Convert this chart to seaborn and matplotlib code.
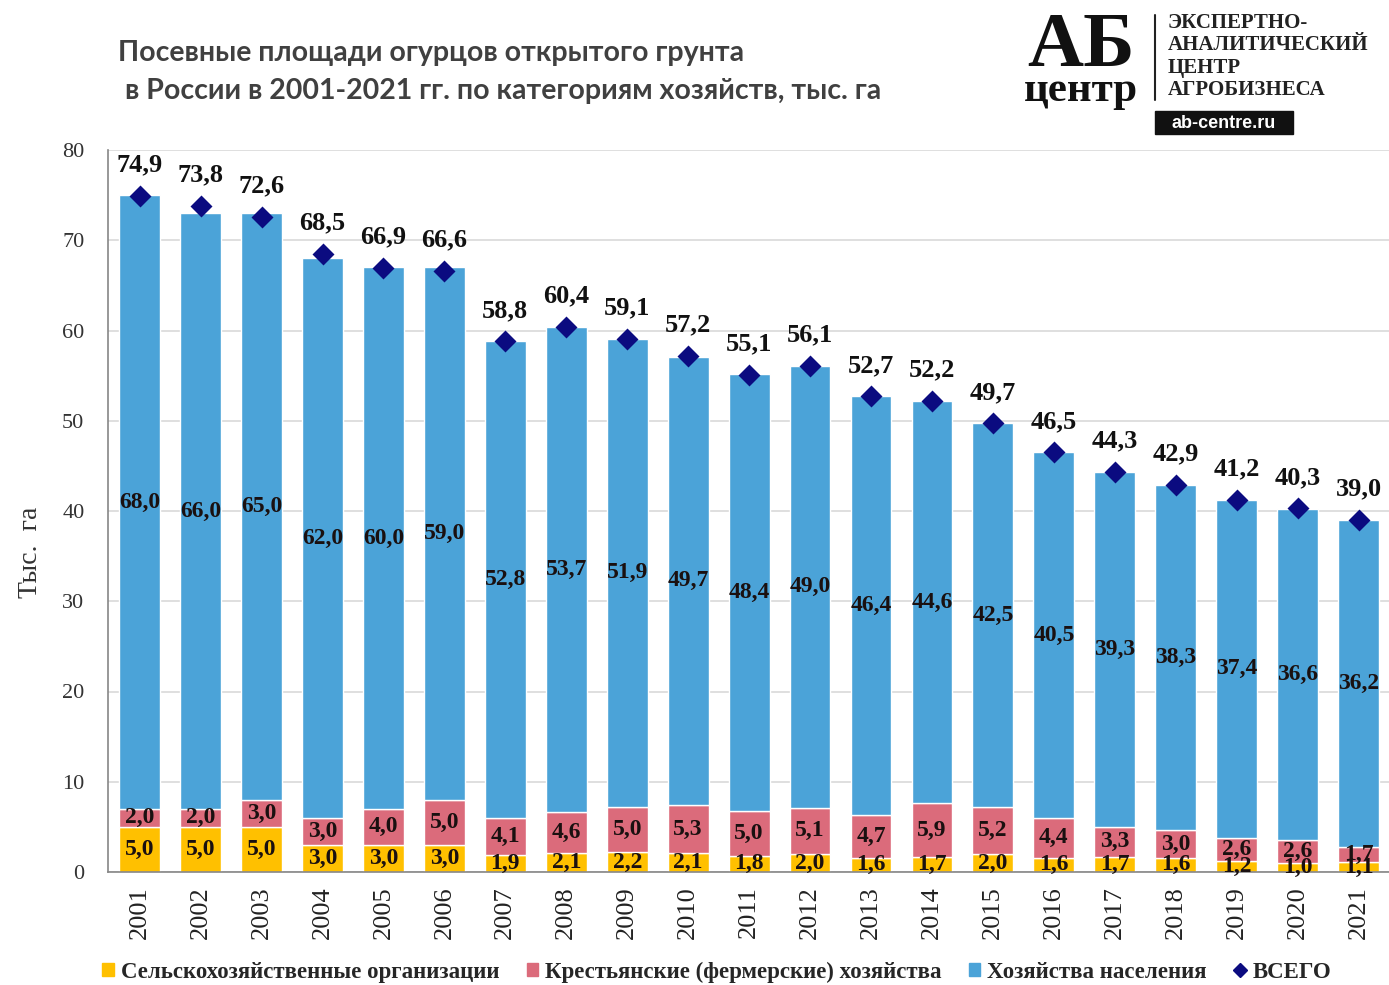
import numpy as np
import matplotlib
matplotlib.use('Agg')
import matplotlib.pyplot as plt
import seaborn as sns
from matplotlib.patches import Patch, Rectangle
from matplotlib.lines import Line2D

years = [str(y) for y in range(2001, 2022)]
agri_orgs = [5.0, 5.0, 5.0, 3.0, 3.0, 3.0, 1.9, 2.1, 2.2, 2.1, 1.8, 2.0, 1.6, 1.7, 2.0, 1.6, 1.7, 1.6, 1.2, 1.0, 1.1]
farms = [2.0, 2.0, 3.0, 3.0, 4.0, 5.0, 4.1, 4.6, 5.0, 5.3, 5.0, 5.1, 4.7, 5.9, 5.2, 4.4, 3.3, 3.0, 2.6, 2.6, 1.7]
households = [68.0, 66.0, 65.0, 62.0, 60.0, 59.0, 52.8, 53.7, 51.9, 49.7, 48.4, 49.0, 46.4, 44.6, 42.5, 40.5, 39.3, 38.3, 37.4, 36.6, 36.2]
totals = [74.9, 73.8, 72.6, 68.5, 66.9, 66.6, 58.8, 60.4, 59.1, 57.2, 55.1, 56.1, 52.7, 52.2, 49.7, 46.5, 44.3, 42.9, 41.2, 40.3, 39.0]
legend_labels = ['Сельскохозяйственные организации', 'Крестьянские (фермерские) хозяйства',
                 'Хозяйства населения', 'ВСЕГО']

c_yellow = '#FFC000'
c_red = '#DB6B7B'
c_blue = '#4BA3D8'
c_navy = '#0B0B80'

sns.set_style('white')
plt.rcParams['font.family'] = ['Liberation Serif', 'DejaVu Serif']

def fmt(v):
    return f'{v:.1f}'.replace('.', ',')

fig = plt.figure(figsize=(13.89, 9.85), dpi=100)
ax = fig.add_axes([108 / 1389, 1 - 872 / 985, 1 - 108 / 1389, (872 - 150) / 985])

bottom2 = np.array(agri_orgs)
bottom3 = bottom2 + np.array(farms)
sns.barplot(x=years, y=agri_orgs, color=c_yellow, width=0.67, ax=ax, saturation=1)
sns.barplot(x=years, y=farms, bottom=bottom2, color=c_red, width=0.67, ax=ax, saturation=1)
sns.barplot(x=years, y=households, bottom=bottom3, color=c_blue, width=0.67, ax=ax, saturation=1)
sns.pointplot(x=years, y=totals, color=c_navy, markers='D', linestyle='none',
              markersize=9, errorbar=None, ax=ax)

lab_kw = dict(label_type='center', fontsize=17, fontweight='bold', color='#1a1010')
ax.bar_label(ax.containers[0], labels=[fmt(v) for v in agri_orgs], **lab_kw)
ax.bar_label(ax.containers[1], labels=[fmt(v) for v in farms], **lab_kw)
ax.bar_label(ax.containers[2], labels=[fmt(v) for v in households], **lab_kw)

for i, t in enumerate(totals):
    ax.annotate(fmt(t), (i, t), xytext=(0, 14), textcoords='offset points',
                ha='center', va='bottom', fontsize=19, fontweight='bold', color='#111111')

ax.set_ylim(0, 80)
ax.set_xlim(-0.52, 20.39)
ax.set_yticks(range(0, 81, 10))
ax.yaxis.grid(True, color='#d9d9d9', linewidth=1.2)
ax.set_axisbelow(True)
for s in ['top', 'right']:
    ax.spines[s].set_visible(False)
for s in ['left', 'bottom']:
    ax.spines[s].set_color('#868686')
    ax.spines[s].set_linewidth(1.2)

ax.set_xticks(np.arange(len(years)))
ax.set_xticklabels(years, rotation=90, fontsize=19, color='#222222')
ax.set_xticks(np.arange(len(years) + 1) - 0.5, minor=True)
ax.tick_params(axis='x', which='major', length=0, pad=10)
ax.tick_params(axis='x', which='minor', length=7, color='#868686', width=1.2)
ax.tick_params(axis='y', length=7, color='#868686', width=1.2, labelsize=16, labelcolor='#333333', pad=10)
ax.set_xlabel('')
ax.set_ylabel('Тыс.  га', fontsize=20, color='#333333')
ax.yaxis.set_label_coords(-0.051, (872 - 552) / 722)

fig.text(118 / 1389, 1 - 53 / 985, 'Посевные площади огурцов открытого грунта',
         family=['Lato', 'DejaVu Sans'], fontweight='bold', fontsize=20.5, color='#404040', va='center')
fig.text(125 / 1389, 1 - 91 / 985, 'в России в 2001-2021 гг. по категориям хозяйств, тыс. га',
         family=['Lato', 'DejaVu Sans'], fontweight='bold', fontsize=20.5, color='#404040', va='center')

# logo
fig.text(1081 / 1389, 1 - 66 / 985, 'АБ', fontsize=56, fontweight='bold', color='#111111',
         ha='center', va='baseline')
fig.text(1081 / 1389, 1 - 101 / 985, 'центр', fontsize=31, fontweight='bold', color='#111111',
         ha='center', va='baseline')
fig.add_artist(Line2D([1155 / 1389, 1155 / 1389], [1 - 15 / 985, 1 - 100 / 985],
                      transform=fig.transFigure, color='#222222', linewidth=1.5))
for k, line in enumerate(['ЭКСПЕРТНО-', 'АНАЛИТИЧЕСКИЙ', 'ЦЕНТР', 'АГРОБИЗНЕСА']):
    fig.text(1168 / 1389, 1 - (23 + 22.3 * k) / 985, line, fontsize=15, fontweight='bold',
             color='#222222', va='center')
fig.add_artist(Rectangle((1155 / 1389, 1 - 134 / 985), 138 / 1389, 23 / 985,
                         transform=fig.transFigure, color='#111111'))
fig.text(1224 / 1389, 1 - 123 / 985, 'ab-centre.ru', family=['Liberation Sans', 'DejaVu Sans'],
         fontsize=13, fontweight='bold', color='white', ha='center', va='center')

handles = [Patch(color=c_yellow), Patch(color=c_red), Patch(color=c_blue),
           Line2D([], [], color=c_navy, marker='D', linestyle='none', markersize=7)]
fig.legend(handles, legend_labels, loc='center', bbox_to_anchor=(0.516, 1 - 972 / 985), ncol=4,
           frameon=False, handlelength=0.5, handleheight=0.5, handletextpad=0.3, columnspacing=1.2,
           prop={'family': 'Liberation Serif', 'weight': 'bold', 'size': 16.5})

fig.savefig('out.png', dpi=100, facecolor='white')
